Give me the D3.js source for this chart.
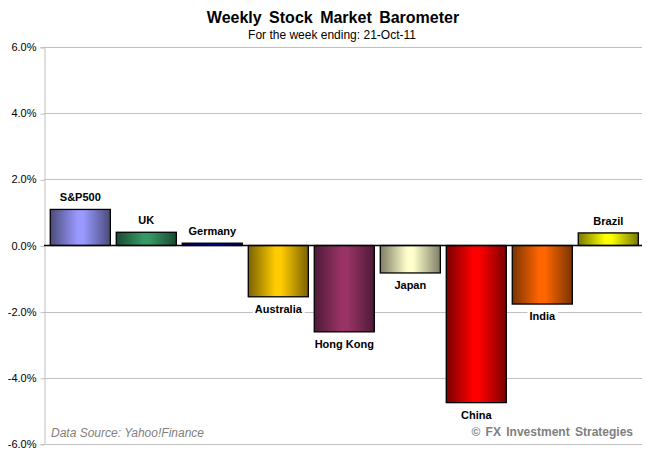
<!DOCTYPE html>
<html lang="en">
<head>
    <meta charset="UTF-8">
    <title>Weekly Stock Market Barometer</title>
    <script src="https://d3js.org/d3.v7.min.js"></script>
    <style>
        body {
            margin: 0;
            background: #fff;
            font-family: "Liberation Sans", Arial, sans-serif;
        }
        .title {
            font-size: 16px;
            font-weight: bold;
            word-spacing: 3px;
            text-anchor: middle;
        }
        .subtitle {
            font-size: 12px;
            text-anchor: middle;
        }
        .tick text {
            font-size: 11px;
            fill: #000;
        }
        .bar-label {
            font-size: 11px;
            font-weight: bold;
            text-anchor: middle;
        }
    </style>
</head>
<body>
<div id="chart"></div>
<script>
    // Weekly % change per market
    const markets = ["S&P500", "UK", "Germany", "Australia", "Hong Kong", "Japan", "China", "India", "Brazil"];
    const changes = [1.09, 0.40, 0.07, -1.55, -2.61, -0.83, -4.75, -1.77, 0.38];
    // [edge, centre] colours of each bar's gradient
    const edgeColors = ["#4b4b7c", "#1b4a33", "#00006e", "#7a6200", "#4e1a36", "#7e7e66", "#7a0000", "#7a3300", "#7a7a00"];
    const midColors = ["#9999ff", "#339966", "#0000cc", "#ffcc00", "#993366", "#ffffcc", "#ff0000", "#ff6600", "#ffff00"];
    const yTicks = [6, 4, 2, 0, -2, -4, -6];

    const W = 647, H = 458;
    const plot = { left: 44, right: 642, top: 47, bottom: 444 };

    const svg = d3.select('#chart')
        .append('svg')
        .attr('width', W)
        .attr('height', H);

    const x = d3.scaleBand()
        .domain(markets)
        .range([47.3, 641.3])
        .paddingInner(0.09)
        .paddingOuter(0.045);

    const y = d3.scaleLinear()
        .domain([-6, 6])
        .range([plot.bottom, plot.top]);

    // gradients
    const defs = svg.append('defs');
    markets.forEach((m, i) => {
        const g = defs.append('linearGradient')
            .attr('id', 'grad' + i)
            .attr('x1', '0%').attr('x2', '100%')
            .attr('y1', '0%').attr('y2', '0%');
        g.append('stop').attr('offset', '0%').attr('stop-color', edgeColors[i]);
        g.append('stop').attr('offset', '45%').attr('stop-color', midColors[i]);
        g.append('stop').attr('offset', '55%').attr('stop-color', midColors[i]);
        g.append('stop').attr('offset', '100%').attr('stop-color', edgeColors[i]);
    });

    // gridlines
    svg.append('g')
        .selectAll('line')
        .data(yTicks.filter(d => d !== 0))
        .enter().append('line')
        .attr('x1', plot.left)
        .attr('x2', plot.right)
        .attr('y1', d => Math.round(y(d)) + 0.5)
        .attr('y2', d => Math.round(y(d)) + 0.5)
        .attr('stroke', '#c0c0c0')
        .attr('stroke-width', 1);

    // y axis
    const yAxis = svg.append('g')
        .attr('transform', `translate(${plot.left + 0.5}, 0)`)
        .call(d3.axisLeft(y)
            .tickValues(yTicks)
            .tickSize(4)
            .tickPadding(4)
            .tickFormat(d => d.toFixed(1) + '%'));
    yAxis.selectAll('path, line').attr('stroke', '#c0c0c0');
    yAxis.selectAll('.tick line').attr('y1', 0.5).attr('y2', 0.5);
    yAxis.selectAll('.tick text').style('font-family', '"Liberation Sans", Arial, sans-serif');

    // bars
    svg.append('g')
        .selectAll('rect')
        .data(changes)
        .enter().append('rect')
        .attr('x', (d, i) => x(markets[i]))
        .attr('y', d => y(Math.max(0, d)))
        .attr('width', x.bandwidth())
        .attr('height', d => Math.abs(y(d) - y(0)))
        .attr('fill', (d, i) => `url(#grad${i})`)
        .attr('stroke', '#000')
        .attr('stroke-width', 1.3);

    // zero line
    svg.append('line')
        .attr('x1', plot.left)
        .attr('x2', plot.right)
        .attr('y1', y(0))
        .attr('y2', y(0))
        .attr('stroke', '#000')
        .attr('stroke-width', 1.3);

    // data labels with white backing
    const labels = svg.append('g')
        .selectAll('g')
        .data(changes)
        .enter().append('g')
        .attr('transform', (d, i) => {
            const cx = x(markets[i]) + x.bandwidth() / 2;
            const cy = d >= 0 ? y(d) - 12 : y(d) + 12;
            return `translate(${cx}, ${cy})`;
        });
    labels.append('text')
        .attr('class', 'bar-label')
        .attr('dy', '0.36em')
        .text((d, i) => markets[i]);
    labels.each(function () {
        const g = d3.select(this);
        const bb = g.select('text').node().getBBox();
        g.insert('rect', 'text')
            .attr('x', bb.x - 2)
            .attr('y', bb.y)
            .attr('width', bb.width + 4)
            .attr('height', bb.height)
            .attr('fill', '#fff');
    });

    // titles
    svg.append('text')
        .attr('class', 'title')
        .attr('x', 333)
        .attr('y', 23)
        .text('Weekly Stock Market Barometer');
    svg.append('text')
        .attr('class', 'subtitle')
        .attr('x', 332)
        .attr('y', 39)
        .text('For the week ending: 21-Oct-11');

    // footer notes
    svg.append('text')
        .attr('x', 51)
        .attr('y', 437)
        .style('font-size', '12px')
        .style('font-style', 'italic')
        .attr('fill', '#808080')
        .text('Data Source: Yahoo!Finance');
    svg.append('text')
        .attr('x', 633)
        .attr('y', 436)
        .attr('text-anchor', 'end')
        .style('font-size', '12px')
        .style('font-weight', 'bold')
        .style('word-spacing', '2px')
        .attr('fill', '#808080')
        .text('\u00A9 FX Investment Strategies');
</script>
</body>
</html>
